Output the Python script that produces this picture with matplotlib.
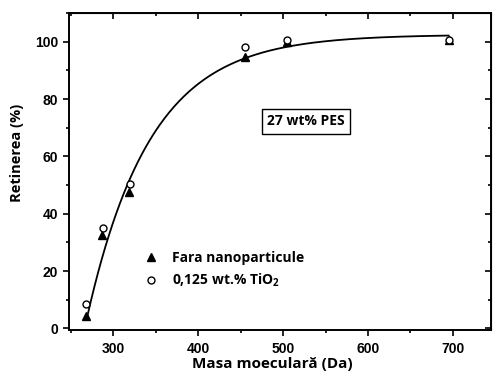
"""Retinerea (%) vs masa moleculara pentru membrane PES 27 wt%."""

import matplotlib

matplotlib.use("Agg")
import matplotlib.pyplot as plt
import numpy as np
from matplotlib.ticker import MultipleLocator, NullFormatter

plt.rcParams["font.family"] = ["Open Sans", "DejaVu Sans"]
plt.rcParams["mathtext.fontset"] = "custom"
plt.rcParams["mathtext.rm"] = "Open Sans:bold"
plt.rcParams["mathtext.bf"] = "Open Sans:bold"

# Fara nanoparticule (triunghiuri pline)
mw_plain = [268, 287, 318, 455, 504, 695]
ret_plain = [4.2, 32.7, 47.7, 94.7, 100.0, 100.6]

# 0,125 wt.% TiO2 (cercuri goale)
mw_tio2 = [268, 288, 319, 455, 504, 696]
ret_tio2 = [8.4, 35.2, 50.5, 98.3, 100.6, 100.6]

x_ticks = [300, 400, 500, 600, 700]
y_ticks = [0, 20, 40, 60, 80, 100]

# exponential fit line: y = Y0 * (1 - exp(-(x - X0) / T))
FIT_Y0 = 102.5
FIT_X0 = 266.0
FIT_T = 75.0
FIT_RANGE = (269, 695)

xs = np.linspace(FIT_RANGE[0], FIT_RANGE[1], 300)
ys = FIT_Y0 * (1 - np.exp(-(xs - FIT_X0) / FIT_T))

fig = plt.figure(figsize=(4.93, 3.74), dpi=100)
ax = fig.add_axes([0.139, 0.118, 0.857, 0.847])

ax.plot(xs, ys, color="black", lw=1.3, zorder=2)
ax.plot(mw_plain, ret_plain, ls="none", marker="^", ms=6, color="black",
        label="Fara nanoparticule", zorder=3)
ax.plot(mw_tio2, ret_tio2, ls="none", marker="o", ms=5, mfc="white",
        mec="black", mew=1.0, label="0,125 wt.% TiO$_2$", zorder=4)

ax.set_xlim(247, 745)
ax.set_ylim(-0.5, 110)
ax.set_xticks(x_ticks)
ax.set_yticks(y_ticks)
ax.xaxis.set_minor_locator(MultipleLocator(50))
ax.yaxis.set_minor_locator(MultipleLocator(10))

for s in ax.spines.values():
    s.set_linewidth(1.4)
ax.tick_params(which="both", width=1.2, direction="out")
ax.tick_params(which="major", length=4, labelsize=10)
ax.tick_params(which="minor", length=2.5)
ax.tick_params(axis="x", pad=5)
for lab in ax.get_xticklabels() + ax.get_yticklabels():
    lab.set_fontweight("bold")
    lab.set_fontfamily(["Liberation Sans", "DejaVu Sans"])

# inward ticks on top and right
top = ax.secondary_xaxis("top")
top.set_xticks(x_ticks)
top.xaxis.set_minor_locator(MultipleLocator(50))
top.xaxis.set_major_formatter(NullFormatter())
top.tick_params(which="both", direction="in", width=1.2)
top.tick_params(which="major", length=4)
top.tick_params(which="minor", length=2.5)
right = ax.secondary_yaxis("right")
right.set_yticks(y_ticks)
right.yaxis.set_minor_locator(MultipleLocator(10))
right.yaxis.set_major_formatter(NullFormatter())
right.tick_params(which="both", direction="in", width=1.2)
right.tick_params(which="major", length=4)
right.tick_params(which="minor", length=2.5)

ax.set_xlabel("Masa moeculară (Da)", fontsize=11, fontweight="bold")
ax.xaxis.set_label_coords(0.483, -0.085)
ax.set_ylabel("Retinerea (%)", fontsize=10.5, fontweight="bold")
ax.yaxis.set_label_coords(-0.106, 0.56)

leg = ax.legend(loc="lower left", bbox_to_anchor=(0.15, 0.09), frameon=False,
                prop={"weight": "bold", "size": 10}, handletextpad=1.0,
                labelspacing=0.45, handlelength=1.0)

ax.text(0.562, 0.658, "27 wt% PES", transform=ax.transAxes, fontsize=10,
        fontweight="bold", ha="center", va="center",
        bbox=dict(boxstyle="square,pad=0.4", fc="white", ec="black", lw=1.0))

fig.savefig("out.png", dpi=100)
